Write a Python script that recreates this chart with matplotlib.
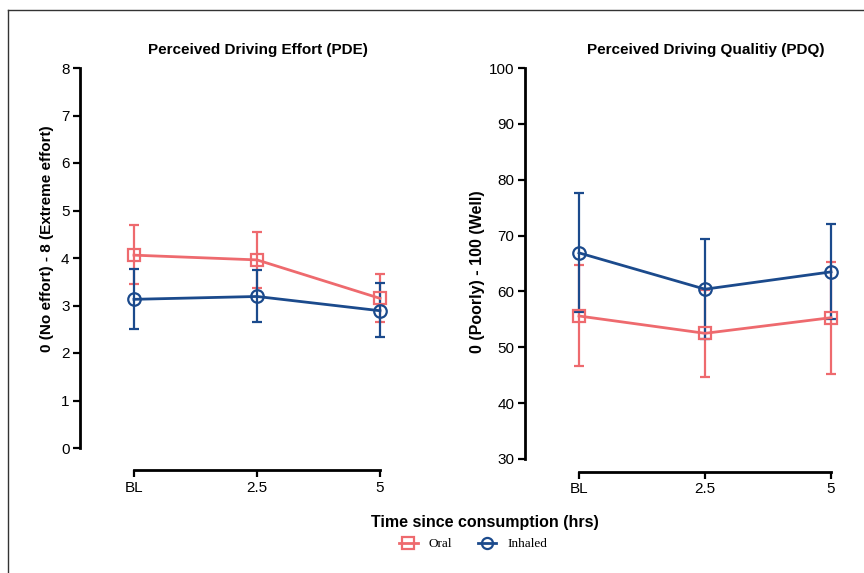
import matplotlib
matplotlib.use('Agg')
import matplotlib.pyplot as plt
from matplotlib.lines import Line2D

# data
time_labels = ['BL', '2.5', '5']

pde_oral = [4.06, 3.96, 3.15]
pde_oral_lo = [3.45, 3.37, 2.65]
pde_oral_hi = [4.69, 4.55, 3.66]
pde_inhaled = [3.13, 3.19, 2.89]
pde_inhaled_lo = [2.50, 2.65, 2.33]
pde_inhaled_hi = [3.77, 3.74, 3.47]

pdq_oral = [55.6, 52.5, 55.3]
pdq_oral_lo = [46.6, 44.7, 45.2]
pdq_oral_hi = [64.8, 60.3, 65.3]
pdq_inhaled = [66.9, 60.4, 63.5]
pdq_inhaled_lo = [56.4, 51.5, 55.1]
pdq_inhaled_hi = [77.6, 69.4, 72.1]

RED = '#EE6A6E'
BLUE = '#1B4A8C'

plt.rcParams['font.family'] = ['Liberation Sans', 'DejaVu Sans']

W, H = 864, 573
fig = plt.figure(figsize=(W / 100, H / 100), dpi=100)


def px_axes(left, right, top, bottom):
    return fig.add_axes([left / W, 1 - bottom / H, (right - left) / W, (bottom - top) / H])


def draw_series(ax, vals, lo, hi, color, marker):
    x = list(range(len(vals)))
    yerr = [[v - l for v, l in zip(vals, lo)], [h - v for v, h in zip(vals, hi)]]
    ax.errorbar(x, vals, yerr=yerr, color=color, lw=2, elinewidth=1.6,
                capsize=3.5, capthick=1.6, marker=marker, ms=9,
                mfc='none', mec=color, mew=1.6, clip_on=False)


def style_axes(ax, ylim, yticks, x_offset):
    ax.set_ylim(*ylim)
    ax.set_yticks(yticks)
    ax.set_xticks(range(len(time_labels)))
    ax.set_xticklabels(time_labels)
    for s in ['top', 'right']:
        ax.spines[s].set_visible(False)
    ax.spines['left'].set_linewidth(2)
    ax.spines['bottom'].set_linewidth(2)
    ax.spines['left'].set_bounds(ylim[0], ylim[1])
    ax.spines['bottom'].set_bounds(0, len(time_labels) - 1)
    ax.spines['bottom'].set_position(('outward', x_offset))
    ax.tick_params(width=1.6, length=5, labelsize=11, colors='black', pad=2.5)
    ax.patch.set_visible(False)


# left panel: PDE
ax1 = px_axes(80, 380, 68, 448)
draw_series(ax1, pde_oral, pde_oral_lo, pde_oral_hi, RED, 's')
draw_series(ax1, pde_inhaled, pde_inhaled_lo, pde_inhaled_hi, BLUE, 'o')
ax1.set_xlim(2 - 300 / 123, 2)
style_axes(ax1, (0, 8), range(0, 9), 16)
ax1.set_ylabel('0 (No effort) - 8 (Extreme effort)', fontsize=11, fontweight='bold')
ax1.yaxis.set_label_coords(-0.088, 0.55)

# right panel: PDQ
ax2 = px_axes(525, 831, 68, 459)
draw_series(ax2, pdq_oral, pdq_oral_lo, pdq_oral_hi, RED, 's')
draw_series(ax2, pdq_inhaled, pdq_inhaled_lo, pdq_inhaled_hi, BLUE, 'o')
ax2.set_xlim(2 - 306 / 126, 2)
style_axes(ax2, (30, 100), range(30, 101, 10), 9)
ax2.set_ylabel('0 (Poorly) - 100 (Well)', fontsize=11.5, fontweight='bold')
ax2.yaxis.set_label_coords(-0.131, 0.48)

fig.text(258 / W, 1 - 50 / H, 'Perceived Driving Effort (PDE)', ha='center', va='center',
         fontsize=11, fontweight='bold')
fig.text(706 / W, 1 - 50 / H, 'Perceived Driving Qualitiy (PDQ)', ha='center', va='center',
         fontsize=11, fontweight='bold')
fig.text(485 / W, 1 - 522 / H, 'Time since consumption (hrs)', ha='center', va='center',
         fontsize=11.5, fontweight='bold')

handles = [
    Line2D([], [], color=RED, lw=2, marker='s', ms=8, mfc='none', mew=1.6),
    Line2D([], [], color=BLUE, lw=2, marker='o', ms=8, mfc='none', mew=1.6),
]
fig.legend(handles, ['Oral', 'Inhaled'], loc='center', bbox_to_anchor=(473 / W, 1 - 544 / H),
           ncol=2, frameon=False, handlelength=1.4, columnspacing=2.0, handletextpad=0.8,
           prop={'family': 'Liberation Serif', 'size': 9.5})

# partial figure frame (left and top edges)
fig.add_artist(Line2D([8 / W, 8 / W], [0, 1 - 10 / H], color='#333333', lw=1))
fig.add_artist(Line2D([8 / W, 1], [1 - 10 / H, 1 - 10 / H], color='#333333', lw=1))

fig.savefig('out.png', dpi=100)
